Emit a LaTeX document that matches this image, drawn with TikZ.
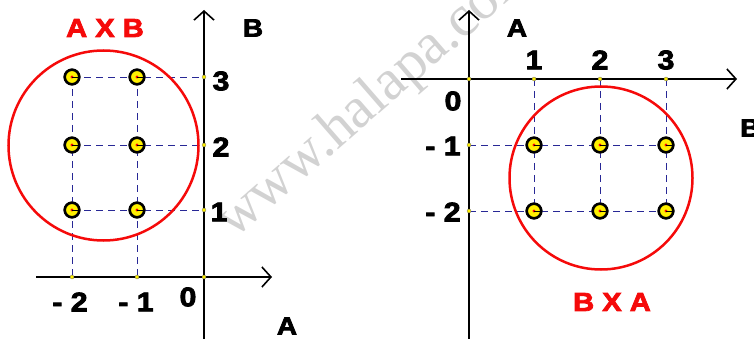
\documentclass[tikz,border=0pt]{standalone}
\usepackage{fontspec}
\setmainfont{Liberation Sans}
\newfontfamily\wmfont{Liberation Serif}
\newfontfamily\hv{Liberation Sans}[UprightFont={* Bold},FakeBold=3,FakeStretch=1.12]
\usetikzlibrary{arrows.meta}
\definecolor{dashblue}{RGB}{40,40,150}
\definecolor{ptyellow}{RGB}{255,240,0}
\definecolor{wmgray}{RGB}{210,210,210}
\definecolor{redc}{RGB}{245,10,10}
\tikzset{
  axis/.style={line width=2pt,-{Straight Barb[length=9pt,width=20pt,line width=1.6pt]}},
  guide/.style={dashblue,line width=0.8pt,dash pattern=on 7pt off 5pt},
  ring/.style={redc,line width=2.5pt},
  lbl/.style={font=\hv\fontsize{27}{27}\selectfont,inner sep=0pt},
  title/.style={font=\hv\fontsize{26}{26}\selectfont,text=redc,inner sep=0pt},
  axlbl/.style={font=\hv\fontsize{25}{25}\selectfont,inner sep=0pt},
  tick/.style={circle,fill=ptyellow,draw=black!60,line width=0.3pt,inner sep=0pt,minimum size=4pt},
  pt/.style={circle,fill=ptyellow,draw=black,line width=2.5pt,inner sep=0pt,minimum size=14.5pt},
}
\newcommand{\ptdot}[1]{\fill[redc] (#1) circle (1.7pt); \draw[line width=0.8pt] (#1.center) -- ++(5.5pt,0);}
\begin{document}
\begin{tikzpicture}[x=1pt,y=-1pt]
\useasboundingbox (0,0) rectangle (754,339);
\begin{scope}
\clip (0,0) rectangle (754,339);
\node[text=wmgray,font=\wmfont\fontsize{58}{58}\selectfont,rotate=41,anchor=base west,inner sep=0pt] (wm) at (234,240) {www.halapa.com};
\end{scope}

% ---------- left: A x B ----------
\coordinate (LO) at (204,277);
\coordinate (LxS) at (36,277);
\coordinate (LxE) at (272,277);
\coordinate (LyS) at (204,339);
\coordinate (LyE) at (204,10);
\coordinate (Lxm2) at (72,277);
\coordinate (Lxm1) at (137,277);
\coordinate (Ly1) at (204,210);
\coordinate (Ly2) at (204,145);
\coordinate (Ly3) at (204,77);

\node[pt] (p21) at (72,210) {};
\node[pt] (p22) at (72,145) {};
\node[pt] (p23) at (72,77) {};
\node[pt] (p11) at (137,210) {};
\node[pt] (p12) at (137,145) {};
\node[pt] (p13) at (137,77) {};

\draw[guide] (p23.center) -- (Ly3);
\draw[guide] (p22.center) -- (Ly2);
\draw[guide] (p21.center) -- (Ly1);
\draw[guide] (p23.center) -- (Lxm2);
\draw[guide] (p13.center) -- (Lxm1);

\draw[ring] (103.5,145.5) circle (95pt);

\draw[axis] (LxS) -- (LxE);
\draw[axis] (LyS) -- (LyE);

\foreach \n in {p21,p22,p23,p11,p12,p13}{
  \node[pt] at (\n) {};
  \ptdot{\n}
}
\foreach \c in {LO,Lxm2,Lxm1,Ly1,Ly2,Ly3}{\node[tick] at (\c) {};}

\node[title] (tAB) at (105,28) {A X B};
\node[axlbl] (lB) at (253,28) {B};
\node[axlbl] (lA) at (287,326) {A};
\node[lbl] (l3) at (221,81) {3};
\node[lbl] (l2) at (221,147) {2};
\node[lbl] (l1) at (219,212) {1};
\node[lbl] (lm2) at (70,302) {- 2};
\node[lbl] (lm1) at (136,302) {- 1};
\node[lbl] (l0) at (188,297) {0};

% ---------- right: B x A ----------
\coordinate (RO) at (469,79);
\coordinate (RxS) at (401,79);
\coordinate (RxE) at (737,79);
\coordinate (RyS) at (469,339);
\coordinate (RyE) at (469,10);
\coordinate (Rx1) at (534,79);
\coordinate (Rx2) at (600,79);
\coordinate (Rx3) at (666,79);
\coordinate (Rym1) at (469,145);
\coordinate (Rym2) at (469,211);

\node[pt] (q11) at (534,145) {};
\node[pt] (q21) at (600,145) {};
\node[pt] (q31) at (666,145) {};
\node[pt] (q12) at (534,211) {};
\node[pt] (q22) at (600,211) {};
\node[pt] (q32) at (666,211) {};

\draw[guide] (Rym1) -- (q31.center);
\draw[guide] (Rym2) -- (q32.center);
\draw[guide] (Rx1) -- (q12.center);
\draw[guide] (Rx2) -- (q22.center);
\draw[guide] (Rx3) -- (q32.center);

\draw[ring] (601,178) circle (91.5pt);

\draw[axis] (RxS) -- (RxE);
\draw[axis] (RyS) -- (RyE);

\foreach \n in {q11,q21,q31,q12,q22,q32}{
  \node[pt] at (\n) {};
  \ptdot{\n}
}
\foreach \c in {RO,Rx1,Rx2,Rx3,Rym1,Rym2}{\node[tick] at (\c) {};}

\node[title] (tBA) at (612,302) {B X A};
\node[axlbl] (rA) at (517,28) {A};
\node[axlbl,anchor=west] (rB) at (740,128) {B};
\node[lbl] (r1) at (534,60) {1};
\node[lbl] (r2) at (600,60) {2};
\node[lbl] (r3) at (666,60) {3};
\node[lbl] (r0) at (453,101) {0};
\node[lbl] (rm1) at (443,146) {- 1};
\node[lbl] (rm2) at (443,212) {- 2};
\end{tikzpicture}
\end{document}
